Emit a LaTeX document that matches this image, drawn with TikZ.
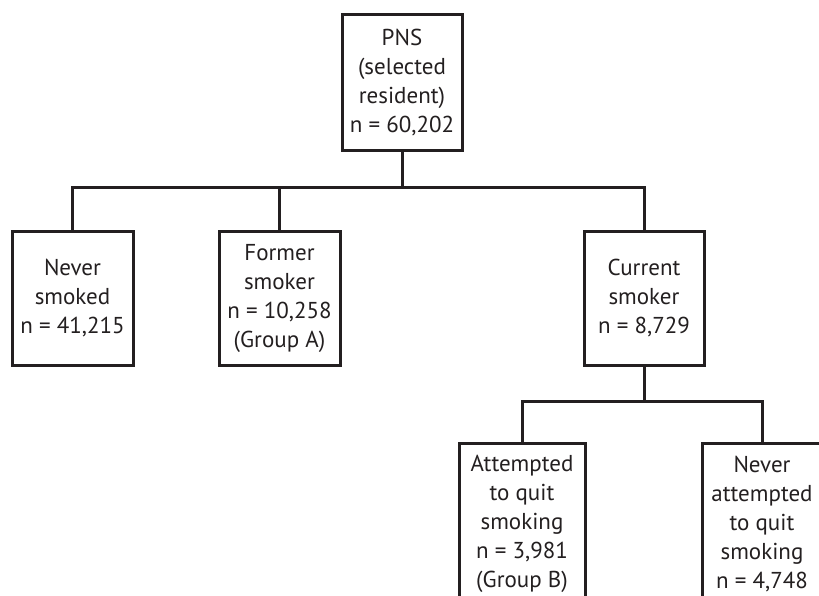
\documentclass[tikz,border=0pt]{standalone}
\usepackage{fontspec}
\setmainfont{PT Sans}
\definecolor{ink}{HTML}{231F20}
\begin{document}
\begin{tikzpicture}[x=1pt,y=-1pt,
  box/.style={draw=ink, line width=3pt, align=center, inner sep=0pt, text=ink,
    font=\fontsize{23}{29}\selectfont},
  link/.style={draw=ink, line width=3pt}]
\useasboundingbox (0,0) rectangle (819,596);
\clip (0,0) rectangle (819,596);
\node[box, minimum width=120pt, minimum height=136pt] (pns) at (402,83)
  {PNS\\(selected\\resident)\\n = 60,202};
\node[box, minimum width=121pt, minimum height=134pt] (never) at (72.5,298)
  {Never\\smoked\\n = 41,215};
\node[box, minimum width=121pt, minimum height=134pt] (former) at (279.5,298)
  {Former\\smoker\\n = 10,258\\(Group A)};
\node[box, minimum width=120pt, minimum height=134pt] (current) at (644,298)
  {Current\\smoker\\n = 8,729};
\node[box, minimum width=126pt, minimum height=162pt] (attempt) at (522,524)
  {Attempted\\to quit\\smoking\\n = 3,981\\(Group B)};
\node[box, minimum width=120pt, minimum height=162pt] (notattempt) at (762,524)
  {Never\\attempted\\to quit\\smoking\\n = 4,748};
\coordinate (j1) at (402,188);
\coordinate (j2) at (644,401);
\draw[link] (pns.south) -- (j1);
\draw[link] (never.north) |- (j1) -| (current.north);
\draw[link] (former.north) -- (former.north |- j1);
\draw[link] (current.south) -- (j2);
\draw[link] (attempt.north) |- (j2) -| (notattempt.north);
\end{tikzpicture}
\end{document}
